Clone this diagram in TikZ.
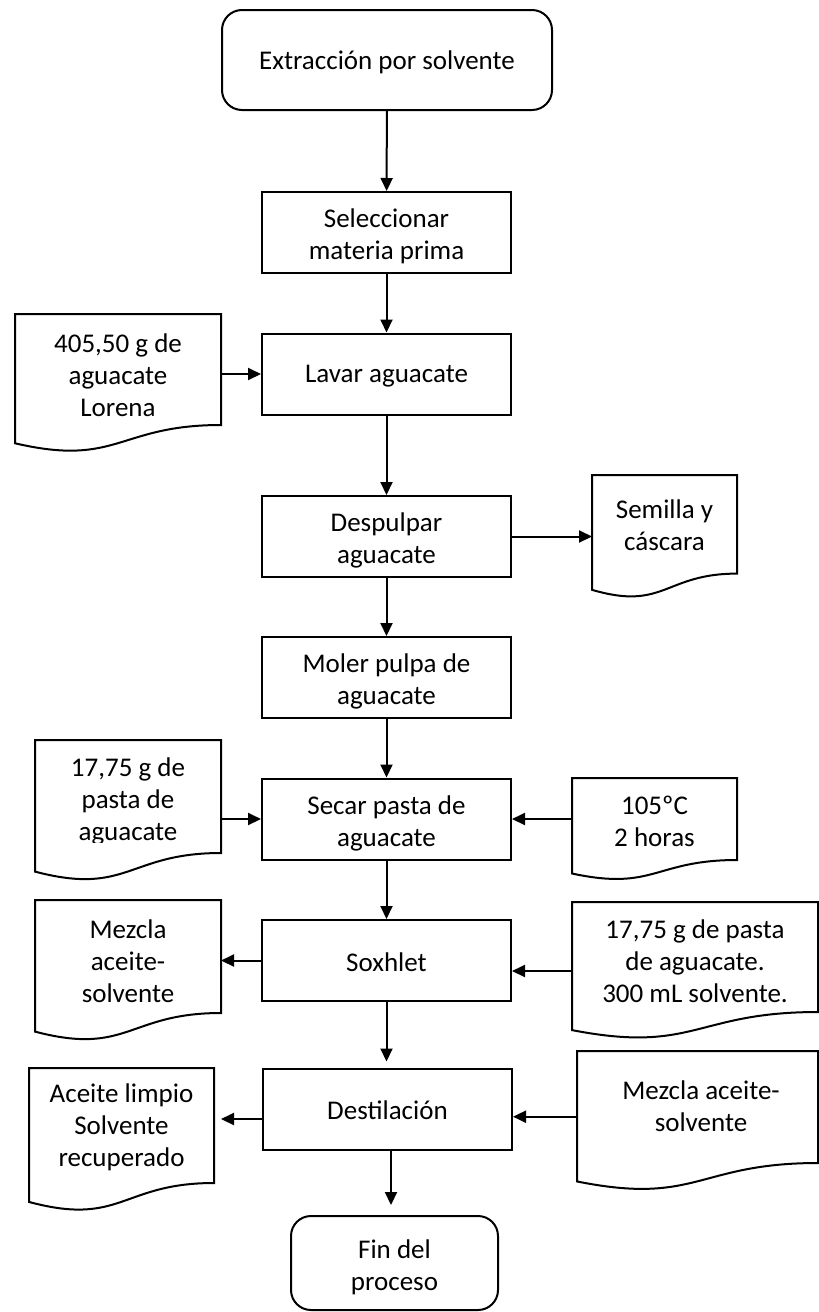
\documentclass[tikz,border=0pt]{standalone}
\usepackage{fontspec}
\setmainfont{Carlito}
\usetikzlibrary{arrows.meta,calc}

\tikzset{
  base/.style={font=\fontsize{27pt}{32pt}\selectfont, align=center, inner sep=0pt},
  procbox/.style={draw, line width=2pt, inner sep=0pt, minimum width=249pt, minimum height=81pt},
  termbox/.style={draw, line width=2pt, inner sep=0pt, rounded corners=20pt},
  docarea/.style={inner sep=0pt, outer sep=0pt},
  doctext/.style={base},
  docline/.style={line width=2pt, line join=miter},
  arr/.style={line width=2pt, -{Triangle[length=13pt,width=12pt]}},
}

% Document symbol: the node is the flat text area, the wavy edge hangs below it
\newcommand\docoutline[1]{%
  \draw[docline] let \p1=(#1.south west), \p2=(#1.north east) in
    (\x1,\y2) -- (\x2,\y2) -- (\x2,\y1)
    .. controls ({(\x1+\x2)/2},\y1) and ({(\x1+\x2)/2},{\y1-0.381*(\y2-\y1)}) ..
    (\x1,{\y1-0.1646*(\y2-\y1)}) -- cycle;}

\begin{document}
\begin{tikzpicture}[x=1pt,y=-1pt]
\useasboundingbox (0,0) rectangle (819,1312);

% main process column
\node[termbox, minimum width=330pt, minimum height=100pt] (start) at (387,60) {};
\node[procbox] (sel)    at (386.5,232.5) {};
\node[procbox] (lavar)  at (386.5,374)   {};
\node[procbox] (desp)   at (386.5,536.5) {};
\node[procbox] (moler)  at (386.5,677.5) {};
\node[procbox] (secar)  at (386.5,819)   {};
\node[procbox] (sox)    at (386.5,960.5) {};
\node[procbox] (destil) at (387.5,1109)  {};
\node[termbox, minimum width=207pt, minimum height=94pt] (fin) at (394.5,1263) {};

% box texts sit slightly below the geometric centre
\node[base] (tstart) at ([yshift=-2pt]start.center)  {Extracción por solvente};
\node[base] (tsel)   at ([yshift=-4pt]sel.center)    {Seleccionar\\materia prima};
\node[base] (tlavar) at ([yshift=-2pt]lavar.center)  {Lavar aguacate};
\node[base] (tdesp)  at ([yshift=-4pt]desp.center)   {Despulpar\\aguacate};
\node[base] (tmoler) at ([yshift=-4pt]moler.center)  {Moler pulpa de\\aguacate};
\node[base] (tsecar) at ([yshift=-4pt]secar.center)  {Secar pasta de\\aguacate};
\node[base] (tsox)   at ([yshift=-1.5pt]sox.center)  {Soxhlet};
\node[base] (tdest)  at ([yshift=-1.5pt]destil.center) {Destilación};
\node[base] (tfin)   at ([yshift=-4pt]fin.center)    {Fin del\\proceso};

% inputs and outputs (document symbols)
\node[docarea, minimum width=206pt, minimum height=111pt] (d405)  at (118,369.5)   {};
\node[docarea, minimum width=186pt, minimum height=113pt] (d1775) at (128,796.5)   {};
\node[docarea, minimum width=186pt, minimum height=113pt] (dmezL) at (128,956.5)   {};
\node[docarea, minimum width=185pt, minimum height=115pt] (dacl)  at (121.5,1125.5){};
\node[docarea, minimum width=145pt, minimum height=98.6pt] (dsem) at (664.5,524.3) {};
\node[docarea, minimum width=165pt, minimum height=82pt]  (d105)  at (654.5,819)   {};
\node[docarea, minimum width=246pt, minimum height=110pt] (d300)  at (695,957)     {};
\node[docarea, minimum width=241pt, minimum height=112pt] (dmezR) at (697.5,1107)  {};

\foreach \d in {d405,d1775,dmezL,dacl,dsem,d105,d300,dmezR} {\docoutline{\d}}

\node[doctext] (t405) at (118,375) {405,50 g de\\aguacate\\Lorena};
\begin{scope}
  \clip (0,735) rectangle (260,842);
  \node[doctext] (t1775) at (128,801) {17,75 g de\\pasta de\\aguacate};
\end{scope}
\node[doctext] (tmezL) at (128,961)    {Mezcla\\aceite-\\solvente};
\node[doctext] (tacl)  at (121.5,1127) {Aceite limpio\\Solvente\\recuperado};
\node[doctext] (tsem)  at (664.5,525)  {Semilla y\\cáscara};
\node[doctext] (t105)  at (654.5,821)  {105ºC\\2 horas};
\node[doctext] (t300)  at (695,961)    {17,75 g de pasta\\de aguacate.\\300 mL solvente.};
\node[doctext] (tmezR) at (701,1106)   {Mezcla aceite-\\solvente};

% helper points for offset connectors
\coordinate (dtop)  at ([yshift=6pt]destil.north);
\coordinate (sxin)  at ([yshift=-10.5pt]sox.east);
\coordinate (dlout) at ([yshift=-10pt]destil.west);
\coordinate (daclr) at ([xshift=7pt]dacl.east);
\coordinate (drin)  at ([yshift=-7.7pt]destil.east);
\coordinate (fout)  at ([xshift=3.5pt]destil.south);
\coordinate (fin2)  at ([xshift=-3.6pt,yshift=10pt]fin.north);

% connectors
\draw[arr] (start) -- (sel);
\draw[arr] (sel) -- (lavar);
\draw[arr] (d405.east |- lavar.west) -- (lavar.west);
\draw[arr] (lavar) -- (desp);
\draw[arr] (desp.east) -- (desp.east -| dsem.west);
\draw[arr] (desp) -- (moler);
\draw[arr] (moler) -- (secar);
\draw[arr] (d1775.east |- secar.west) -- (secar.west);
\draw[arr] (d105.west |- secar.east) -- (secar.east);
\draw[arr] (secar) -- (sox);
\draw[arr] (sox.west) -- (sox.west -| dmezL.east);
\draw[arr] (sxin -| d300.west) -- (sxin);
\draw[arr] (sox.south) -- (sox.south |- dtop);
\draw[arr] (dlout) -- (dlout -| daclr);
\draw[arr] (drin -| dmezR.west) -- (drin);
\draw[arr] (fout) -- (fout |- fin2);
\end{tikzpicture}
\end{document}
